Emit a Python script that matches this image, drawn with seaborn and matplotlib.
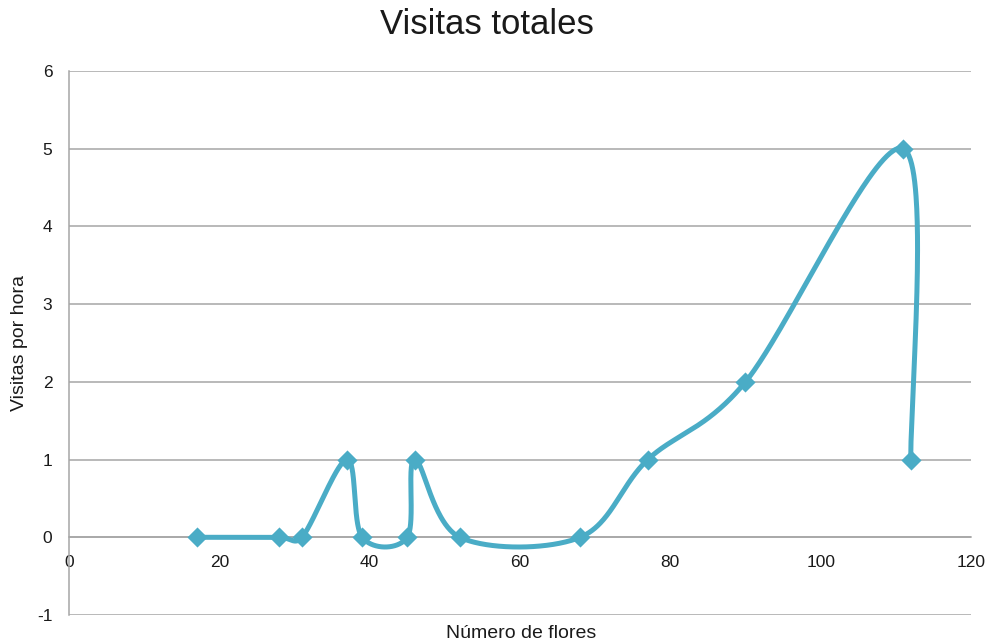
import numpy as np
import pandas as pd
import matplotlib
matplotlib.use("Agg")
import matplotlib.pyplot as plt
import seaborn as sns

# Visits per hour against number of flowers
flores = [17, 28, 31, 37, 39, 45, 46, 52, 68, 77, 90, 111, 112]
visitas = [0, 0, 0, 1, 0, 0, 1, 0, 0, 1, 2, 5, 1]
x_ticks = [0, 20, 40, 60, 80, 100, 120]
y_ticks = [-1, 0, 1, 2, 3, 4, 5, 6]

title = "Visitas totales"
x_label = "Número de flores"
y_label = "Visitas por hora"

LINE_COLOR = "#4aacc6"
GRID_COLOR = "#a6a6a6"
TEXT_COLOR = "#1a1a1a"

sns.set_style("white")
plt.rcParams["font.family"] = ["Liberation Sans", "DejaVu Sans"]

W, H = 993, 643
fig = plt.figure(figsize=(W / 100, H / 100), dpi=100)
ax = fig.add_axes([69 / W, 1 - 615 / H, (971 - 69) / W, (615 - 71) / H])
ax.set_xlim(x_ticks[0], x_ticks[-1])
ax.set_ylim(y_ticks[0], y_ticks[-1])


def smooth_curve(ax, xs, ys, n=80):
    """Bezier smoothing of a polyline, computed in display space."""
    pts = ax.transData.transform(np.column_stack([xs, ys]))
    out = [pts[0]]
    t = np.linspace(0, 1, n)[1:, None]
    for i in range(len(pts) - 1):
        p0 = pts[i - 1] if i > 0 else pts[i]
        p1, p2 = pts[i], pts[i + 1]
        p3 = pts[i + 2] if i + 2 < len(pts) else pts[i + 1]
        seg = np.linalg.norm(p2 - p1)
        d1 = (p2 - p0) / 6.0
        d2 = (p3 - p1) / 6.0
        for d in (d1, d2):
            L = np.linalg.norm(d)
            if L > seg / 2 and L > 0:
                d *= (seg / 2) / L
        c1 = p1 + d1
        c2 = p2 - d2
        b = ((1 - t) ** 3) * p1 + 3 * ((1 - t) ** 2) * t * c1 \
            + 3 * (1 - t) * (t ** 2) * c2 + (t ** 3) * p2
        out.extend(b)
    return ax.transData.inverted().transform(np.array(out))


curve = smooth_curve(ax, flores, visitas)
curve_df = pd.DataFrame({"x": curve[:, 0], "y": curve[:, 1]})
pts_df = pd.DataFrame({"flores": flores, "visitas": visitas})

# horizontal gridlines
for yv in y_ticks:
    ax.axhline(yv, color=GRID_COLOR, lw=1.1, zorder=1)

sns.lineplot(data=curve_df, x="x", y="y", sort=False, estimator=None,
             color=LINE_COLOR, lw=3.6, ax=ax, zorder=3)
sns.scatterplot(data=pts_df, x="flores", y="visitas", marker="D", s=105,
                color=LINE_COLOR, edgecolor=LINE_COLOR, linewidth=0,
                ax=ax, zorder=4)

ax.set_xlim(x_ticks[0], x_ticks[-1])
ax.set_ylim(y_ticks[0], y_ticks[-1])
ax.set_xticks(x_ticks)
ax.set_yticks(y_ticks)
ax.set_xticklabels([str(v) for v in x_ticks])
ax.set_yticklabels([str(v) for v in y_ticks])

for side in ("top", "right"):
    ax.spines[side].set_visible(False)
ax.spines["bottom"].set_position(("data", 0))
ax.spines["bottom"].set_color(GRID_COLOR)
ax.spines["bottom"].set_linewidth(1.1)
ax.spines["left"].set_color(GRID_COLOR)
ax.spines["left"].set_linewidth(1.1)
ax.spines["left"].set_zorder(2)

ax.tick_params(axis="x", length=0, pad=12.5, labelsize=12.5, colors=TEXT_COLOR)
ax.tick_params(axis="y", length=0, pad=12, labelsize=12.5, colors=TEXT_COLOR)

ax.set_xlabel(x_label, fontsize=14, color=TEXT_COLOR)
ax.set_ylabel(y_label, fontsize=14, color=TEXT_COLOR)
ax.xaxis.set_label_coords((521 - 69) / (971 - 69), -0.019)
ax.yaxis.set_label_coords(-0.045, 0.5)

fig.text(486.5 / W, 1 - 34.3 / H, title, ha="center", va="baseline",
         fontsize=25, color=TEXT_COLOR)

fig.savefig("out.png", dpi=100, facecolor="white")
